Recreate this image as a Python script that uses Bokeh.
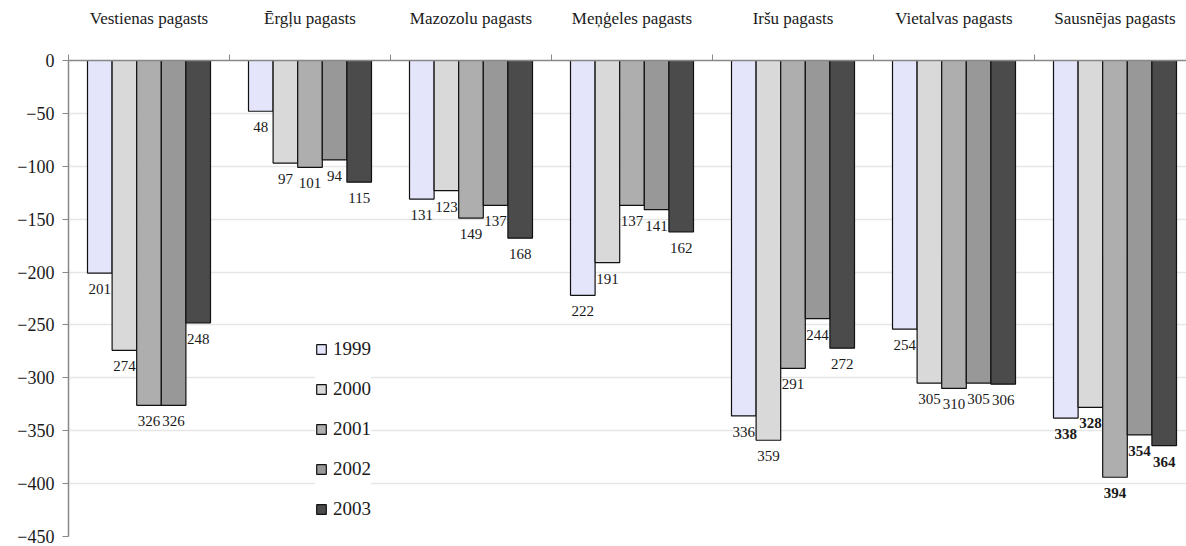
from bokeh.plotting import figure
from bokeh.models import (ColumnDataSource, FixedTicker, LinearAxis, Legend, LegendItem, Range1d)
from bokeh.embed import file_html
from bokeh.resources import INLINE
from bokeh.core.properties import value

categories = ["Vestienas pagasts", "Ērgļu pagasts", "Mazozolu pagasts", "Meņģeles pagasts",
              "Iršu pagasts", "Vietalvas pagasts", "Sausnējas pagasts"]
years = ["1999", "2000", "2001", "2002", "2003"]
v1999 = [-201, -48, -131, -222, -336, -254, -338]
v2000 = [-274, -97, -123, -191, -359, -305, -328]
v2001 = [-326, -101, -149, -137, -291, -310, -394]
v2002 = [-326, -94, -137, -141, -244, -305, -354]
v2003 = [-248, -115, -168, -162, -272, -306, -364]
y_ticks = [0, -50, -100, -150, -200, -250, -300, -350, -400, -450]

series = [v1999, v2000, v2001, v2002, v2003]
colors = ["#E4E4FA", "#D9D9D9", "#AEAEAE", "#989898", "#4B4B4B"]

n = len(categories)
bar_w = 24.6 / 161.0
gap = 19.0 / 161.0

p = figure(width=1186, height=546, output_backend="svg", toolbar_location=None,
           x_range=Range1d(0, 1118 / 161.0), y_range=Range1d(-450, 0),
           x_axis_location=None, min_border_left=68, min_border_top=60,
           min_border_bottom=10, min_border_right=0)
p.outline_line_color = None
p.xgrid.visible = False
p.ygrid.grid_line_color = "#E6E6E6"
p.ygrid.grid_line_width = 1.5
p.ygrid.ticker = FixedTicker(ticks=y_ticks)

yax = p.yaxis[0]
yax.ticker = FixedTicker(ticks=y_ticks)
yax.axis_line_color = "#888888"
yax.axis_line_width = 1.5
yax.major_tick_line_color = "#888888"
yax.major_tick_out = 6
yax.major_tick_in = 0
yax.minor_tick_line_color = None
yax.major_label_text_font = "Times"
yax.major_label_text_font_size = "18px"
yax.major_label_text_color = "#1a1a1a"
yax.major_label_standoff = 8

centers = [i + 0.5 for i in range(n)]
bounds = [float(i) for i in range(n + 1)]
top_ax = LinearAxis(ticker=FixedTicker(ticks=centers, minor_ticks=bounds))
top_ax.major_label_overrides = {c: lab for c, lab in zip(centers, categories)}
top_ax.axis_line_color = "#888888"
top_ax.axis_line_width = 1.5
top_ax.major_tick_line_color = None
top_ax.minor_tick_line_color = "#888888"
top_ax.minor_tick_out = 6
top_ax.minor_tick_in = 0
top_ax.major_label_text_font = '"Liberation Serif"'
top_ax.major_label_text_font_size = "17px"
top_ax.major_label_text_color = "#1a1a1a"
top_ax.major_label_standoff = 27
p.add_layout(top_ax, "above")

items = []
lx, ly, lt, ls = [], [], [], []
for j, (yr, vals, col) in enumerate(zip(years, series, colors)):
    xs = [i + gap + bar_w * (j + 0.5) for i in range(n)]
    src = ColumnDataSource(dict(x=xs, top=vals))
    r = p.vbar(x="x", top="top", bottom=0, width=bar_w, source=src,
               fill_color=col, line_color="#111111", line_width=1.2)
    items.append(LegendItem(label=yr, renderers=[r]))
    for i in range(n):
        lx.append(xs[i])
        ly.append(vals[i])
        lt.append(str(abs(vals[i])))
        ls.append("bold" if i == n - 1 else "normal")

lsrc = ColumnDataSource(dict(x=lx, y=ly, t=lt, s=ls))
p.text(x="x", y="y", text="t", source=lsrc, text_font=value("Liberation Serif"),
       text_font_size="15px", text_font_style="s", text_color="#1a1a1a",
       text_align="center", text_baseline="top", y_offset=11)

legend = Legend(items=items, location=(247, 16), orientation="vertical",
                glyph_width=12, glyph_height=12, label_height=20, spacing=18,
                label_standoff=6, padding=10,
                label_text_font="Times", label_text_font_size="19px",
                label_text_color="#1a1a1a",
                background_fill_color="white", background_fill_alpha=1.0,
                border_line_color=None)
p.add_layout(legend)

open("out.html", "w").write(file_html(p, INLINE))
